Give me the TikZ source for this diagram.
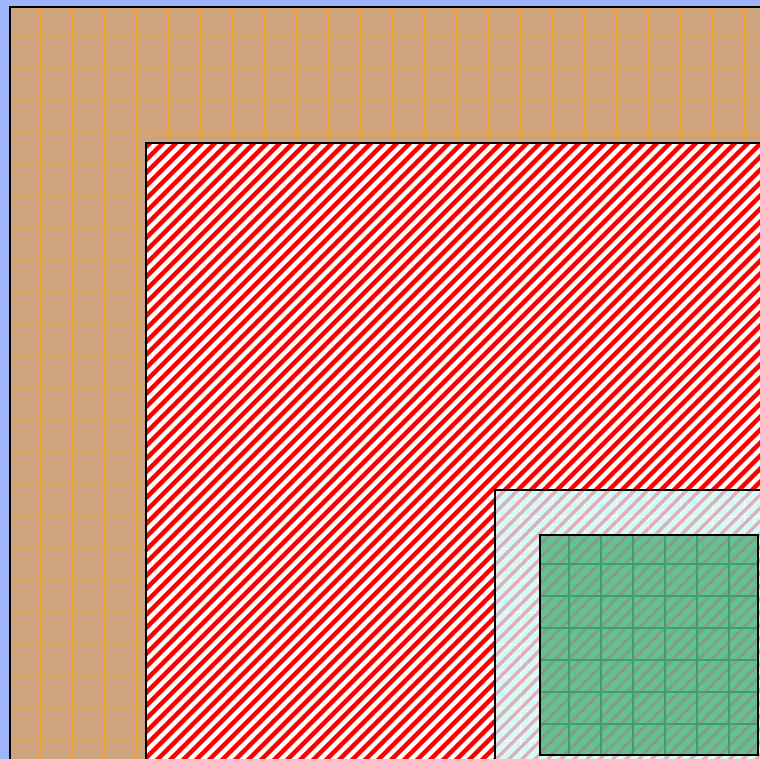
\documentclass[tikz,border=0pt]{standalone}
\usepackage{tikz}
\definecolor{bgblue}{RGB}{160,180,250}
\definecolor{tanfill}{RGB}{206,164,126}
\definecolor{gridorange}{RGB}{246,160,30}
\definecolor{palecyan}{RGB}{212,250,250}
\definecolor{cyangrid}{RGB}{236,255,255}
\definecolor{pinkstripe}{RGB}{236,100,110}
\definecolor{tealfill}{RGB}{100,192,150}
\definecolor{tealgrid}{RGB}{58,160,108}
\definecolor{brownstripe}{RGB}{190,100,90}
\tikzset{
  sheet/.style={draw=black,line width=1.5pt},
  stripe/.style={line width=3.3pt,line cap=butt},
}

\begin{document}
\begin{tikzpicture}[x=0.75pt,y=-0.75pt]
  \useasboundingbox (0,0) rectangle (760,759);
  \clip (0,0) rectangle (760,759);
  \fill[bgblue] (0,0) rectangle (760,759);
  % tan sheet with orange grid
  \fill[tanfill] (10,7) rectangle (770,770);
  \begin{scope}
    \clip (10,7) rectangle (770,770);
    \foreach \x in {40,72,...,760} \draw[gridorange,line width=0.75pt] (\x,7)--(\x,770);
    \foreach \y in {36,68,...,760} \draw[gridorange,line width=0.6pt,opacity=0.45] (10,\y)--(770,\y);
  \end{scope}
  \draw[sheet] (770,7)--(10,7)--(10,770);
  % red hatched sheet
  \fill[white] (146,143) rectangle (770,770);
  \begin{scope}
    \clip (146,143) rectangle (770,770);
    \foreach \c in {280,293,...,1560} \draw[stripe,red] (\c,0)--++(-900,900);
  \end{scope}
  \draw[sheet] (770,143)--(146,143)--(146,770);
  % pale cyan sheet, stripes showing through
  \fill[palecyan] (495,490) rectangle (770,770);
  \begin{scope}
    \clip (495,490) rectangle (770,770);
    \foreach \x in {520,552,...,760} \draw[cyangrid,line width=0.6pt] (\x,490)--(\x,770);
    \foreach \y in {516,548,...,760} \draw[cyangrid,line width=0.6pt] (495,\y)--(770,\y);
    \foreach \c in {956,969,...,1560} \draw[stripe,pinkstripe,line width=2.4pt,opacity=0.5] (\c,0)--++(-900,900);
  \end{scope}
  \draw[sheet] (770,490)--(495,490)--(495,770);
  % green sheet with its own grid
  \fill[tealfill] (540,535) rectangle (758,755);
  \begin{scope}
    \clip (540,535) rectangle (758,755);
    \foreach \c in {1059,1072,...,1560} \draw[stripe,brownstripe,line width=2.2pt,opacity=0.35] (\c,0)--++(-900,900);
    \foreach \x in {569,601,...,758} \draw[tealgrid,line width=0.8pt] (\x,535)--(\x,755);
    \foreach \y in {564,596,...,755} \draw[tealgrid,line width=0.8pt] (540,\y)--(758,\y);
  \end{scope}
  \draw[sheet] (540,535) rectangle (758,755);
\end{tikzpicture}
\end{document}
